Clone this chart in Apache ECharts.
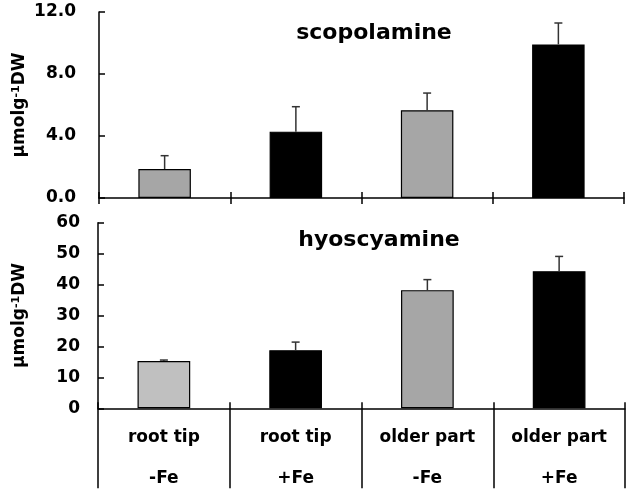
<!DOCTYPE html>
<html>
<head>
<meta charset="utf-8">
<script src="https://cdn.jsdelivr.net/npm/echarts@6/dist/echarts.min.js"></script>
<style>html,body{margin:0;padding:0;background:#fff;}#c{width:630px;height:493px;}</style>
</head>
<body>
<div id="c"></div>
<script>
var tissues = ['root tip', 'root tip', 'older part', 'older part'];
var treatments = ['-Fe', '+Fe', '-Fe', '+Fe'];
var scopMean = [1.87, 4.28, 5.66, 9.91];
var scopErr = [0.86, 1.61, 1.11, 1.38];
var hyosMean = [15.3, 18.8, 38.2, 44.3];
var hyosErr = [0.3, 2.6, 3.4, 4.8];
var scopColors = ['#a6a6a6', '#000000', '#a6a6a6', '#000000'];
var hyosColors = ['#c0c0c0', '#000000', '#a6a6a6', '#000000'];
var scopTicks = [0, 4, 8, 12];
var hyosTicks = [0, 10, 20, 30, 40, 50, 60];

var FONT = 'DejaVu Sans';
var categories = tissues.map(function (t, i) { return t + '\n' + treatments[i]; });

function barData(vals, cols) {
  return vals.map(function (v, i) {
    return { value: v, itemStyle: { color: cols[i] } };
  });
}
function errData(vals, errs) {
  return vals.map(function (v, i) { return [i, v, v + errs[i]]; });
}
function errRender(params, api) {
  var base = api.coord([api.value(0), api.value(1)]);
  var top = api.coord([api.value(0), api.value(2)]);
  var st = { stroke: '#333', lineWidth: 1.5 };
  return {
    type: 'group',
    children: [
      { type: 'line', shape: { x1: base[0], y1: base[1], x2: top[0], y2: top[1] }, style: st },
      { type: 'line', shape: { x1: top[0] - 4, y1: top[1], x2: top[0] + 4, y2: top[1] }, style: st }
    ]
  };
}
var yName = {
  name: 'μmolg{sup|-1}DW',
  nameLocation: 'middle',
  nameRotate: 90,
  nameMoveOverlap: false,
  nameTextStyle: {
    fontFamily: FONT, fontWeight: 'bold', fontSize: 17, color: '#000',
    rich: { sup: { fontFamily: FONT, fontWeight: 'bold', fontSize: 11, color: '#000', verticalAlign: 'top', padding: [0, 0, 7, 0] } }
  }
};
function yAxis(gi, ticks, dec, gap, margin) {
  var n = ticks.length;
  return Object.assign({}, yName, {
    type: 'value', gridIndex: gi,
    min: ticks[0], max: ticks[n - 1], interval: ticks[1] - ticks[0],
    nameGap: gap,
    axisLine: { show: true, lineStyle: { color: '#000', width: 1.5 } },
    axisTick: { show: true, inside: true, length: 6, lineStyle: { color: '#000', width: 1.5 } },
    splitLine: { show: false },
    axisLabel: {
      margin: margin, fontFamily: FONT, fontWeight: 'bold', fontSize: 17, color: '#000',
      formatter: function (v) { return dec ? v.toFixed(1) : String(v); }
    }
  });
}
function xAxis(gi, extra) {
  return Object.assign({
    type: 'category', gridIndex: gi, data: categories, position: 'bottom',
    axisLine: { onZero: false, lineStyle: { color: '#000', width: 1.5 } },
    axisLabel: { show: false }
  }, extra);
}
var opt = {
  animation: false,
  backgroundColor: '#fff',
  grid: [
    { left: 99, right: 6, top: 12, height: 186, outerBoundsMode: 'none', containLabel: false },
    { left: 98, right: 5, top: 222.7, height: 185.6, outerBoundsMode: 'none', containLabel: false }
  ],
  title: [
    { text: 'scopolamine', left: 369, top: 17, textAlign: 'center',
      textStyle: { fontFamily: FONT, fontWeight: 'bold', fontSize: 22, color: '#000' } },
    { text: 'hyoscyamine', left: 374, top: 224, textAlign: 'center',
      textStyle: { fontFamily: FONT, fontWeight: 'bold', fontSize: 22, color: '#000' } }
  ],
  xAxis: [
    xAxis(0, { axisTick: { show: true, inside: true, length: 6, lineStyle: { color: '#000', width: 1.5 } } }),
    xAxis(1, { axisTick: { show: true, inside: true, length: 6, lineStyle: { color: '#000', width: 1.5 } },
      axisLabel: { show: true, margin: 9, fontFamily: FONT, fontWeight: 'bold', fontSize: 17, color: '#000', lineHeight: 41 } }),
    xAxis(0, { axisLine: { show: false, onZero: false },
      axisTick: { show: true, inside: false, length: 6, lineStyle: { color: '#000', width: 1.5 } } }),
    xAxis(1, { axisLine: { show: false, onZero: false },
      axisTick: { show: true, inside: false, length: 80, lineStyle: { color: '#000', width: 1.5 } } })
  ],
  yAxis: [
    yAxis(0, scopTicks, true, 70, 23),
    yAxis(1, hyosTicks, false, 69, 18)
  ],
  series: [
    { type: 'bar', xAxisIndex: 0, yAxisIndex: 0, barWidth: '40%',
      itemStyle: { borderColor: '#000', borderWidth: 1.2 },
      data: barData(scopMean, scopColors) },
    { type: 'custom', xAxisIndex: 0, yAxisIndex: 0, renderItem: errRender,
      encode: { x: 0, y: [1, 2] }, data: errData(scopMean, scopErr), z: 3 },
    { type: 'bar', xAxisIndex: 1, yAxisIndex: 1, barWidth: '40%',
      itemStyle: { borderColor: '#000', borderWidth: 1.2 },
      data: barData(hyosMean, hyosColors) },
    { type: 'custom', xAxisIndex: 1, yAxisIndex: 1, renderItem: errRender,
      encode: { x: 0, y: [1, 2] }, data: errData(hyosMean, hyosErr), z: 3 }
  ]
};
var chart = echarts.init(document.getElementById('c'), null, { renderer: 'canvas' });
chart.setOption(opt);
</script>
</body>
</html>
